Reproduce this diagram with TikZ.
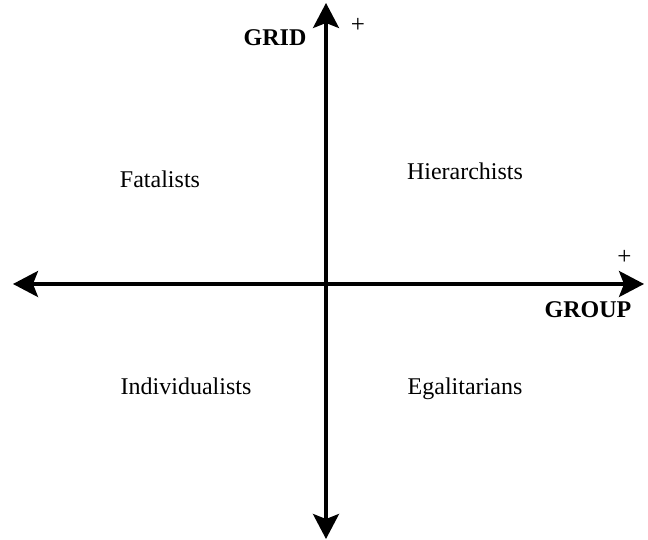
\documentclass[tikz,border=0pt]{standalone}
\usepackage{fontspec}
\setmainfont{Liberation Serif}
\usetikzlibrary{arrows.meta}
\begin{document}
\begin{tikzpicture}[x=1pt,y=1pt,
  axis/.style={line width=3.2pt,{Stealth[length=25pt,width=26pt,inset=5pt]}-{Stealth[length=25pt,width=26pt,inset=5pt]}},
  lab/.style={font=\fontsize{24}{28}\selectfont,inner sep=0pt,anchor=base},
  blab/.style={font=\fontsize{24}{28}\selectfont\bfseries,inner sep=0pt},
  plus/.style={font=\fontsize{25}{28}\selectfont,inner sep=0pt}]
\useasboundingbox (0,0) rectangle (648,540);
\coordinate (top) at (326,537);
\coordinate (bot) at (326,1);
\coordinate (left) at (13,256);
\coordinate (right) at (644,256);
\draw[axis] (bot) -- (top);
\draw[axis] (left) -- (right);
\node[blab] (grid) at (275,502) {GRID};
\node[plus] (gplus) at (358,514.5) {+};
\node[blab] (group) at (588,230) {GROUP};
\node[plus] (rplus) at (624.5,282.5) {+};
\node[lab] (fat) at (160,352) {Fatalists};
\node[lab] (hier) at (465,360) {Hierarchists};
\node[lab] (ind) at (186,145) {Individualists};
\node[lab] (ega) at (465,145) {Egalitarians};
\end{tikzpicture}
\end{document}
